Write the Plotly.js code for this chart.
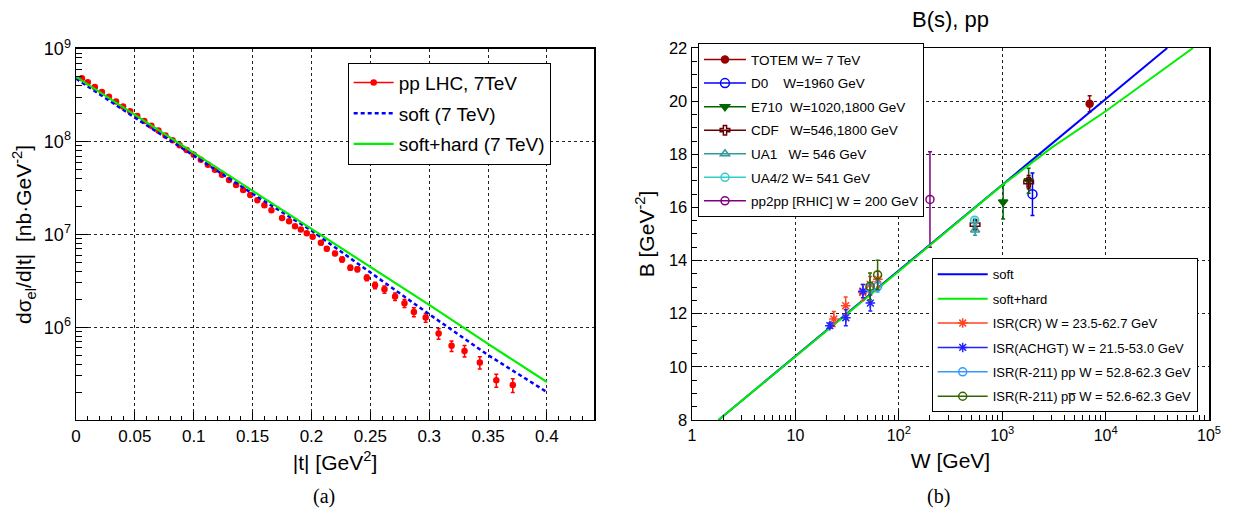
<!DOCTYPE html>
<html><head><meta charset="utf-8">
<script src="https://cdn.plot.ly/plotly-3.0.1.min.js"></script>
<style>html,body{margin:0;padding:0;background:#fff}</style>
</head><body>
<div id="chart" style="width:1236px;height:514px"></div>
<script>
// ---------- panel (a): d sigma / d|t| at 7 TeV ----------
const t_lhc = [0.005,0.010,0.016,0.022,0.028,0.034,0.040,0.046,0.052,0.058,0.064,0.070,0.076,0.082,0.088,0.094,0.100,0.106,0.112,0.118,0.124,0.130,0.136,0.142,0.148,0.154,0.160,0.166,
  0.175,0.181,0.186,0.191,0.196,0.201,0.208,0.213,0.220,0.226,0.233,0.239,0.247,0.254,0.262,0.271,0.279,0.287,0.297,0.308,0.319,0.330,0.343,0.357,0.371];
const dsdt_lhc = [4.84e8,4.39e8,3.89e8,3.44e8,3.05e8,2.71e8,2.40e8,2.13e8,1.89e8,1.67e8,1.49e8,1.32e8,1.17e8,1.04e8,9.18e7,8.15e7,7.24e7,6.40e7,5.65e7,4.98e7,4.40e7,3.87e7,3.42e7,3.01e7,2.66e7,2.34e7,2.07e7,1.82e7,
  1.51e7,1.39e7,1.23e7,1.13e7,1.03e7,9.44e6,8.15e6,7.02e6,6.25e6,5.38e6,4.39e6,4.21e6,3.42e6,2.83e6,2.56e6,2.14e6,1.81e6,1.46e6,1.27e6,8.55e5,6.30e5,5.56e5,4.17e5,2.69e5,2.38e5];
const dsdt_errpct = [2,2,2,2,2,2,2,2,2,2,2,2,2,2,2,2,2,2,2,2,2,2,2,2,2,2,2,2,
  3,3,3,3,3,3,5,5,5,6,6,6,7,8,9,9,10,11,11,13,13,14,15,16,17];
const t_model = [0,0.05,0.1,0.15,0.2,0.25,0.3,0.35,0.4];
const dsdt_soft = [4.79e8,1.82e8,7.08e7,2.75e7,1.10e7,3.89e6,1.38e6,5.01e5,2.00e5];
const dsdt_softhard = [5.01e8,1.95e8,7.59e7,2.95e7,1.15e7,4.47e6,1.74e6,6.61e5,2.57e5];

// ---------- panel (b): slope B(W) ----------
const W_soft = [1.8,10,100,1000,10000,39400];
const B_soft = [8.0,10.40,13.63,16.86,20.08,22.0];
const W_softhard = [1.8,10,100,1000,3000,10000,30000,70000];
const B_softhard = [8.0,10.38,13.60,16.84,18.25,19.62,20.98,22.0];

const W_totem = [7000];        const B_totem = [19.9];        const E_totem = [0.3];
const W_d0 = [1960];           const B_d0 = [16.5];           const E_d0 = [0.8];
const W_e710 = [1020,1800];    const B_e710 = [16.2,17.0];    const E_e710 = [0.64,0.47];
const W_cdf = [546,1800];      const B_cdf = [15.35,16.95];   const E_cdf = [0.19,0.25];
const W_ua1 = [546];           const B_ua1 = [15.15];         const E_ua1 = [0.2];
const W_ua4 = [541];           const B_ua4 = [15.52];         const E_ua4 = [0.07];
const W_pp2pp = [200];         const B_pp2pp = [16.3];        const E_pp2pp = [1.8];
const W_isrcr = [23.5,30.6,44.7,52.8,62.7];  const B_isrcr = [11.8,12.3,12.8,13.1,13.3];  const E_isrcr = [0.28,0.33,0.3,0.3,0.3];
const W_achgt = [21.5,30.7,44.9,53.0];       const B_achgt = [11.55,11.85,12.85,12.4];    const E_achgt = [0.1,0.3,0.25,0.3];
const W_r211pp = [52.8,62.3];  const B_r211pp = [12.97,13.02]; const E_r211pp = [0.2,0.2];
const W_r211pb = [52.6,62.3];  const B_r211pb = [13.03,13.46]; const E_r211pb = [0.5,0.55];

const FONT = 'Liberation Sans, Arial, Helvetica, sans-serif';

function series(name, x, y, err, color, symbol, size, xa, ya, legend, group) {
  const data = {
    type:'scatter', mode:'markers', x:x, y:y, xaxis:xa, yaxis:ya, showlegend:false,
    marker:{color:color, symbol:symbol, size:size, line:{color:color, width:1.5}},
    error_y:{type:'data', array:err, visible:true, color:color, thickness:1.5, width:2}
  };
  const leg = {
    type:'scatter', mode:'lines+markers', x:[null], y:[null], xaxis:xa, yaxis:ya, name:name,
    legend:legend, legendgroup:group,
    line:{color:color, width:1.5},
    marker:{color:color, symbol:symbol, size:size, line:{color:color, width:1.5}}
  };
  return [data, leg];
}

const traces = [];
// panel (a)
const lhcErr = dsdt_lhc.map((v,i)=>v*dsdt_errpct[i]/100);
traces.push(...series('pp LHC, 7TeV', t_lhc, dsdt_lhc, lhcErr, '#ff0000', 'circle', 5, 'x', 'y', 'legend3', 'a1'));
traces.push({type:'scatter', mode:'lines', x:t_model, y:dsdt_soft, xaxis:'x', yaxis:'y', name:'soft (7 TeV)',
  legend:'legend3', legendgroup:'a2', line:{color:'#0000ff', width:2.5, dash:'4px,3px'}});
traces.push({type:'scatter', mode:'lines', x:t_model, y:dsdt_softhard, xaxis:'x', yaxis:'y', name:'soft+hard (7 TeV)',
  legend:'legend3', legendgroup:'a3', line:{color:'#00ee00', width:2.2}});

// panel (b) — legend 1
traces.push(...series('TOTEM W= 7 TeV', W_totem, B_totem, E_totem, '#990000', 'circle', 7, 'x2', 'y2', 'legend', 'b1'));
traces.push(...series('D0    W=1960 GeV', W_d0, B_d0, E_d0, '#0000ff', 'circle-open', 9, 'x2', 'y2', 'legend', 'b2'));
traces.push(...series('E710  W=1020,1800 GeV', W_e710, B_e710, E_e710, '#006600', 'triangle-down', 8, 'x2', 'y2', 'legend', 'b3'));
traces.push(...series('CDF   W=546,1800 GeV', W_cdf, B_cdf, E_cdf, '#660000', 'cross-open', 8, 'x2', 'y2', 'legend', 'b4'));
traces.push(...series('UA1   W= 546 GeV', W_ua1, B_ua1, E_ua1, '#339999', 'triangle-up-open', 8, 'x2', 'y2', 'legend', 'b5'));
traces.push(...series('UA4/2 W= 541 GeV', W_ua4, B_ua4, E_ua4, '#33cccc', 'circle-open', 8, 'x2', 'y2', 'legend', 'b6'));
traces.push(...series('pp2pp [RHIC] W = 200 GeV', W_pp2pp, B_pp2pp, E_pp2pp, '#800080', 'circle-open', 8, 'x2', 'y2', 'legend', 'b7'));
// panel (b) — legend 2
traces.push({type:'scatter', mode:'lines', x:W_soft, y:B_soft, xaxis:'x2', yaxis:'y2', name:'soft',
  legend:'legend2', legendgroup:'c1', line:{color:'#0000ff', width:2}});
traces.push({type:'scatter', mode:'lines', x:W_softhard, y:B_softhard, xaxis:'x2', yaxis:'y2', name:'soft+hard',
  legend:'legend2', legendgroup:'c2', line:{color:'#00ee00', width:2}});
traces.push(...series('ISR(CR) W = 23.5-62.7 GeV', W_isrcr, B_isrcr, E_isrcr, '#ff4422', 'asterisk-open', 8, 'x2', 'y2', 'legend2', 'c3'));
traces.push(...series('ISR(ACHGT) W = 21.5-53.0 GeV', W_achgt, B_achgt, E_achgt, '#2222ff', 'asterisk-open', 8, 'x2', 'y2', 'legend2', 'c4'));
traces.push(...series('ISR(R-211) pp W = 52.8-62.3 GeV', W_r211pp, B_r211pp, E_r211pp, '#3399ff', 'circle-open', 8, 'x2', 'y2', 'legend2', 'c5'));
traces.push(...series('ISR(R-211) pp\u0305 W = 52.6-62.3 GeV', W_r211pb, B_r211pb, E_r211pb, '#336600', 'circle-open', 8, 'x2', 'y2', 'legend2', 'c6'));

function logMinor(lo, hi) { const v=[]; for(let e=lo;e<hi;e++) for(let k=2;k<=9;k++) v.push(k*Math.pow(10,e)); return v; }
const sup = e => '10<sup>'+e+'</sup>';

const gridCommon = {showgrid:true, griddash:'dot', gridcolor:'#222', gridwidth:1, zeroline:false,
  showline:true, mirror:true, linecolor:'#000', linewidth:1.5, ticks:'inside', tickcolor:'#000', automargin:false};

const layout = {
  width:1236, height:514, margin:{l:0,r:0,t:0,b:0}, paper_bgcolor:'#fff', plot_bgcolor:'#fff',
  font:{family:FONT, color:'#000'},
  title:{text:'B(s), pp', x:0.769, xanchor:'center', y:0.963, yanchor:'middle', font:{size:22, family:FONT}},
  xaxis:Object.assign({}, gridCommon, {domain:[0.0615,0.4806], range:[0,0.44], anchor:'y',
    tick0:0, dtick:0.05, ticklen:8, tickfont:{size:17},
    minor:{dtick:0.01, ticks:'inside', ticklen:4, tickcolor:'#000', showgrid:false},
    title:{text:'|t| [GeV<sup>2</sup>]', font:{size:21}, standoff:10}}),
  yaxis:Object.assign({}, gridCommon, {domain:[0.1829,0.9047], type:'log', range:[5,9], anchor:'x',
    tickmode:'array', tickvals:[1e6,1e7,1e8,1e9], ticktext:[sup(6),sup(7),sup(8),sup(9)], ticklen:12, tickfont:{size:18},
    minor:{tickmode:'array', tickvals:logMinor(5,9), ticks:'inside', ticklen:6, tickcolor:'#000', showgrid:false},
    title:{text:'d\u03C3<sub>el</sub>/d|t|  [nb\u00B7GeV<sup>-2</sup>]', font:{size:21}, standoff:6}}),
  xaxis2:Object.assign({}, gridCommon, {domain:[0.5599,0.9782], type:'log', range:[0,5], anchor:'y2',
    tickmode:'array', tickvals:[1,10,100,1e3,1e4,1e5], ticktext:['1','10',sup(2),sup(3),sup(4),sup(5)], ticklen:10, tickfont:{size:16},
    minor:{tickmode:'array', tickvals:logMinor(0,5), ticks:'inside', ticklen:5, tickcolor:'#000', showgrid:false},
    title:{text:'W [GeV]', font:{size:21}, standoff:10}}),
  yaxis2:Object.assign({}, gridCommon, {domain:[0.1829,0.9066], range:[8,22], anchor:'x2',
    tick0:8, dtick:2, ticklen:10, tickfont:{size:16.5},
    minor:{dtick:0.5, ticks:'inside', ticklen:5, tickcolor:'#000', showgrid:false},
    title:{text:'B [GeV<sup>-2</sup>]', font:{size:21}, standoff:8}}),
  legend:{x:0.5647, y:0.9158, xanchor:'left', yanchor:'top', bgcolor:'#fff', bordercolor:'#000', borderwidth:1,
    font:{size:13.5, family:FONT}, traceorder:'grouped', tracegroupgap:3, itemwidth:42},
  legend2:{x:0.7538, y:0.4975, xanchor:'left', yanchor:'top', bgcolor:'#fff', bordercolor:'#000', borderwidth:1,
    font:{size:13, family:FONT}, traceorder:'grouped', tracegroupgap:4.5, itemwidth:50},
  legend3:{x:0.2813, y:0.878, xanchor:'left', yanchor:'top', bgcolor:'#fff', bordercolor:'#000', borderwidth:1,
    font:{size:19, family:FONT}, traceorder:'grouped', tracegroupgap:3, itemwidth:40},
  annotations:[
    {text:'(a)', xref:'paper', yref:'paper', x:324/1236, y:(514-496)/514, xanchor:'center', yanchor:'middle', showarrow:false,
      font:{family:'Liberation Serif, DejaVu Serif, serif', size:20}},
    {text:'(b)', xref:'paper', yref:'paper', x:938/1236, y:(514-496)/514, xanchor:'center', yanchor:'middle', showarrow:false,
      font:{family:'Liberation Serif, DejaVu Serif, serif', size:20}}
  ]
};

Plotly.newPlot('chart', traces, layout, {displayModeBar:false, staticPlot:true});
</script>
</body></html>
